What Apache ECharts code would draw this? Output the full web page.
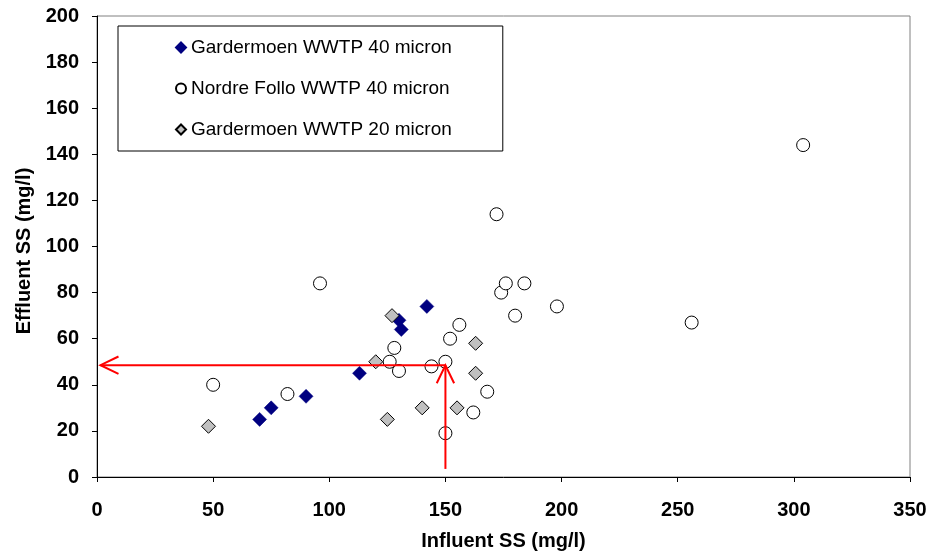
<!DOCTYPE html>
<html>
<head>
<meta charset="utf-8">
<script src="https://cdn.jsdelivr.net/npm/echarts@6/dist/echarts.min.js"></script>
<style>
  html, body { margin: 0; padding: 0; background: #fff; }
  #main { width: 933px; height: 553px; }
</style>
</head>
<body>
<div id="main"></div>
<script>
// series names
const seriesNames = ['Gardermoen WWTP 40 micron', 'Nordre Follo WWTP 40 micron', 'Gardermoen WWTP 20 micron']

// [influent, effluent] in mg/l
const garder40 = [
  [70, 25], [75, 30], [90, 35], [113, 45], [130, 68], [131, 64], [142, 74]
]
const follo40 = [
  [50, 40], [82, 36], [96, 84], [126, 50], [128, 56], [130, 46], [144, 48],
  [150, 50], [150, 19], [152, 60], [156, 66], [162, 28], [168, 37], [172, 114],
  [174, 80], [176, 84], [180, 70], [184, 84], [198, 74], [256, 67], [304, 144]
]
const garder20 = [
  [48, 22], [120, 50], [125, 25], [127, 70], [140, 30], [155, 30], [163, 58], [163, 45]
]

// red reading arrows (from point, to tip)
const hArrow = [[150, 48.5], [1.5, 48.5]]
const vArrow = [[150, 3.5], [150, 48.5]]

const chart = echarts.init(document.getElementById('main'))

function arrowItem (params, api) {
    const pts = params.dataIndex === 0 ? hArrow : vArrow
    const a = api.coord(pts[0])
    const b = api.coord(pts[1])
    const ang = Math.atan2(b[1] - a[1], b[0] - a[0])
    const len = 20
    const spread = 0.45
    const w1 = [b[0] - len * Math.cos(ang - spread), b[1] - len * Math.sin(ang - spread)]
    const w2 = [b[0] - len * Math.cos(ang + spread), b[1] - len * Math.sin(ang + spread)]
    const st = { stroke: '#ff0000', lineWidth: 2, fill: 'none' }
    return {
        type: 'group',
        children: [
            { type: 'line', shape: { x1: a[0], y1: a[1], x2: b[0], y2: b[1] }, style: st },
            { type: 'polyline', shape: { points: [w1, b, w2] }, style: st }
        ]
    }
}

const font = 'Arial, "Liberation Sans", sans-serif'

chart.setOption({
    animation: false,
    backgroundColor: '#fff',
    grid: {
        left: 97,
        right: 23,
        top: 16,
        bottom: 76,
        outerBoundsMode: 'none', // keep the plot box where it is
        show: true,
        borderColor: '#808080',
        borderWidth: 1
    },
    legend: {
        left: 118,
        top: 26,
        orient: 'vertical',
        padding: [12, 51, 12, 57],
        itemGap: 22,
        itemWidth: 10,
        itemHeight: 10,
        borderColor: '#000',
        borderWidth: 1,
        backgroundColor: '#fff',
        textStyle: { fontFamily: font, fontSize: 19, color: '#000' },
        data: seriesNames
    },
    xAxis: {
        type: 'value',
        min: 0,
        max: 350,
        interval: 50,
        name: 'Influent SS (mg/l)',
        nameLocation: 'middle',
        nameGap: 54,
        nameTextStyle: { fontFamily: font, fontSize: 20, fontWeight: 'bold', color: '#000' },
        axisLine: { show: true, onZero: false, lineStyle: { color: '#000', width: 1 } },
        axisTick: { show: true, length: 5, lineStyle: { color: '#000' } },
        axisLabel: { margin: 23, fontFamily: font, fontSize: 20, fontWeight: 'bold', color: '#000' },
        splitLine: { show: false }
    },
    yAxis: {
        type: 'value',
        min: 0,
        max: 200,
        interval: 20,
        name: 'Effluent SS (mg/l)',
        nameLocation: 'middle',
        nameGap: 62,
        nameTextStyle: { fontFamily: font, fontSize: 20, fontWeight: 'bold', color: '#000', padding: [0, 9, 0, 0] },
        axisLine: { show: true, onZero: false, lineStyle: { color: '#000', width: 1 } },
        axisTick: { show: true, length: 5, lineStyle: { color: '#000' } },
        axisLabel: { margin: 18, fontFamily: font, fontSize: 20, fontWeight: 'bold', color: '#000' },
        splitLine: { show: false }
    },
    series: [
        {
            name: seriesNames[1],
            type: 'scatter',
            symbol: 'circle',
            symbolSize: 13,
            itemStyle: { color: '#fff', borderColor: '#000', borderWidth: 1, opacity: 1 },
            data: follo40,
            z: 2
        },
        {
            name: seriesNames[0],
            type: 'scatter',
            symbol: 'diamond',
            symbolSize: 14,
            itemStyle: { color: '#000080', borderColor: '#000080', borderWidth: 0.5, opacity: 1 },
            data: garder40,
            z: 3
        },
        {
            name: seriesNames[2],
            type: 'scatter',
            symbol: 'diamond',
            symbolSize: 14,
            itemStyle: { color: '#c0c0c0', borderColor: '#000', borderWidth: 1, opacity: 1 },
            data: garder20,
            z: 4
        },
        {
            type: 'custom',
            renderItem: arrowItem,
            data: [0, 1],
            silent: true,
            z: 5
        }
    ]
})
</script>
</body>
</html>
